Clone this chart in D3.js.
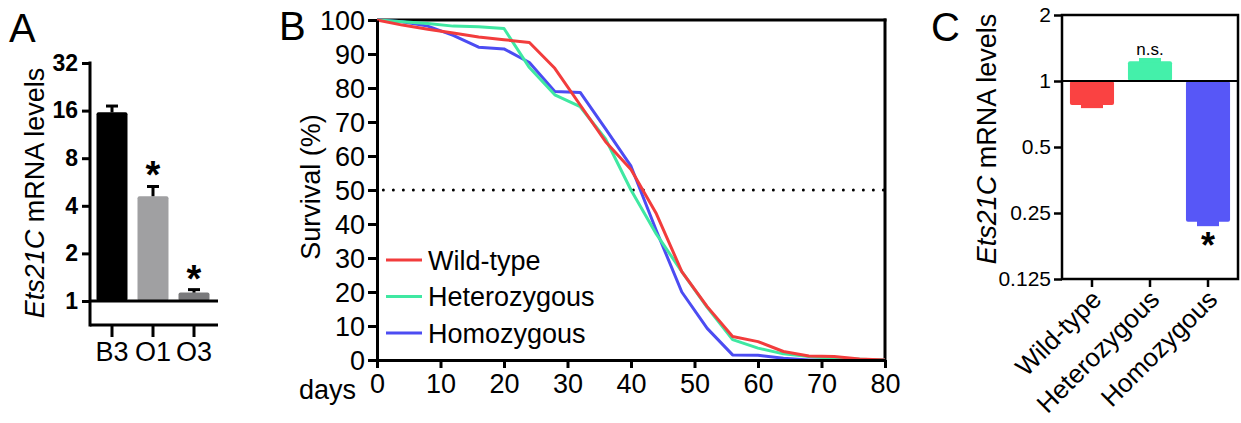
<!DOCTYPE html>
<html lang="en">
<head>
  <meta charset="UTF-8">
  <title>Ets21C figure</title>
  <script src="https://d3js.org/d3.v7.min.js"></script>
  <style>
    body { margin: 0; background: #fff; }
    svg text { font-family: Arial, "Liberation Sans", Helvetica, sans-serif; }
  </style>
</head>
<body>
  <svg id="fig" width="1241" height="423"></svg>
  <script>
    // panel A: mRNA levels per line
    var linesA = ["B3", "O1", "O3"]
    var levelsA = [15.6, 4.6, 1.13]
    var errA = [17.1, 5.3, 1.18]
    var starA = [false, true, true]
    var colorsA = ["#000000", "#a0a0a2", "#7a7a7c"]
    var ticksA = [1, 2, 4, 8, 16, 32]

    // panel B: survival curves
    var days = [0, 4, 8, 12, 16, 20, 24, 28, 32, 36, 40, 44, 48, 52, 56, 60, 64, 68, 72, 76, 80]
    var wildType = [100, 98.5, 97.3, 96.2, 95, 94.2, 93.4, 85.8, 75, 64.2, 56, 43, 26, 15.7, 6.9, 5.4, 2.5, 1.2, 1.0, 0.3, 0]
    var heterozygous = [100, 99.5, 99, 98.2, 98, 97.5, 86, 78, 74.5, 65, 50, 37, 26, 15.5, 6, 3.5, 1.8, 1, 0.5, 0.2, 0]
    var homozygous = [100, 99.5, 98.2, 95.5, 92, 91.5, 87.5, 79, 78.7, 68, 57, 38, 20, 9.3, 1.5, 1.4, 0.5, 0, 0, 0, 0]
    var genotypes = ["Wild-type", "Heterozygous", "Homozygous"]
    var colors = ["#f23c3c", "#3fe8a2", "#4c4cf2"]
    var ticksBx = [0, 10, 20, 30, 40, 50, 60, 70, 80]
    var ticksBy = [0, 10, 20, 30, 40, 50, 60, 70, 80, 90, 100]

    // panel C: relative levels per genotype
    var levelsC = [0.777, 1.23, 0.228]
    var errC = [0.76, 1.26, 0.22]
    var barColorsC = ["#fa4242", "#44f0aa", "#5757f7"]
    var ticksC = [0.125, 0.25, 0.5, 1, 2]

    var svg = d3.select("#fig")

    function styleAxis(g, size) {
      g.selectAll("path, line").attr("stroke", "#000").attr("stroke-width", 3)
      g.selectAll("text").style("font-size", size + "px").attr("fill", "#000")
    }

    // ---------- A ----------
    var yA = d3.scaleLog().base(2).domain([1, 32]).range([301, 63])
    var xA = d3.scaleBand().domain(linesA).range([91.5, 214.5]).paddingInner(0.244).paddingOuter(0.122)

    svg.append("text").attr("x", 9).attr("y", 42).style("font-size", "40px").text("A")

    var gA = svg.append("g")
    gA.selectAll("rect").data(linesA).enter().append("rect")
      .attr("x", function (d) { return xA(d) })
      .attr("width", xA.bandwidth())
      .attr("y", function (d, i) { return yA(levelsA[i]) })
      .attr("height", function (d, i) { return yA(1) - yA(levelsA[i]) })
      .attr("rx", 2)
      .attr("fill", function (d, i) { return colorsA[i] })

    // error bars + stars
    linesA.forEach(function (d, i) {
      var cx = xA(d) + xA.bandwidth() / 2
      gA.append("line").attr("x1", cx).attr("x2", cx)
        .attr("y1", yA(levelsA[i])).attr("y2", yA(errA[i]))
        .attr("stroke", "#000").attr("stroke-width", 3)
      gA.append("line").attr("x1", cx - 6).attr("x2", cx + 6)
        .attr("y1", yA(errA[i])).attr("y2", yA(errA[i]))
        .attr("stroke", "#000").attr("stroke-width", 3)
      if (starA[i]) {
        gA.append("text").attr("x", cx).attr("y", yA(errA[i]) + 2)
          .attr("text-anchor", "middle").style("font-size", "38px").style("font-weight", "bold")
          .text("*")
      }
    })

    var axA = svg.append("g").attr("transform", "translate(90,0)")
      .call(d3.axisLeft(yA).tickValues(ticksA).tickFormat(d3.format("d")).tickSize(8).tickSizeOuter(0))
    styleAxis(axA, 23)
    axA.selectAll("text").style("font-weight", "bold").attr("x", -12)
    axA.select(".domain").remove()
    svg.append("line").attr("x1", 90).attr("x2", 90).attr("y1", 61.5).attr("y2", 326.5)
      .attr("stroke", "#000").attr("stroke-width", 3)
    // line at 1 and broken bottom axis
    svg.append("line").attr("x1", 90).attr("x2", 218).attr("y1", yA(1)).attr("y2", yA(1))
      .attr("stroke", "#000").attr("stroke-width", 3)
    var axAx = svg.append("g").attr("transform", "translate(0,325)")
      .call(d3.axisBottom(xA).tickSize(12).tickPadding(5).tickSizeOuter(0))
    styleAxis(axAx, 27)
    axAx.select(".domain").remove()
    svg.append("line").attr("x1", 90).attr("x2", 218).attr("y1", 325).attr("y2", 325)
      .attr("stroke", "#000").attr("stroke-width", 3)

    svg.append("text")
      .attr("transform", "translate(44,193)rotate(-90)")
      .attr("text-anchor", "middle")
      .style("font-size", "27px")
      .html("<tspan font-style='italic'>Ets21C</tspan> mRNA levels")

    // ---------- B ----------
    var xB = d3.scaleLinear().domain([0, 80]).range([377, 885])
    var yB = d3.scaleLinear().domain([0, 100]).range([360, 20])

    svg.append("text").attr("x", 279).attr("y", 40).style("font-size", "40px").text("B")

    // frame top / right
    svg.append("line").attr("x1", 377).attr("x2", 886.5).attr("y1", 20).attr("y2", 20)
      .attr("stroke", "#000").attr("stroke-width", 3)
    svg.append("line").attr("x1", 885).attr("x2", 885).attr("y1", 18.5).attr("y2", 360)
      .attr("stroke", "#000").attr("stroke-width", 3)

    // 50% dotted line
    svg.append("line").attr("x1", xB(1)).attr("x2", xB(80)).attr("y1", yB(50)).attr("y2", yB(50))
      .attr("stroke", "#000").attr("stroke-width", 3)
      .attr("stroke-linecap", "round").attr("stroke-dasharray", "0,10")

    var line = d3.line()
      .x(function (d, i) { return xB(days[i]) })
      .y(function (d) { return yB(d) })

    var series = [wildType, heterozygous, homozygous]
    // draw homozygous first so wild-type sits on top
    for (var k = series.length - 1; k >= 0; k--) {
      svg.append("path").datum(series[k])
        .attr("d", line)
        .attr("fill", "none")
        .attr("stroke", colors[k])
        .attr("stroke-width", 3)
        .attr("stroke-linejoin", "round")
    }

    var axBx = svg.append("g").attr("transform", "translate(0,360)")
      .call(d3.axisBottom(xB).tickValues(ticksBx).tickSize(8).tickPadding(6).tickSizeOuter(0))
    styleAxis(axBx, 27)
    var axBy = svg.append("g").attr("transform", "translate(377,0)")
      .call(d3.axisLeft(yB).tickValues(ticksBy).tickSize(9).tickPadding(3).tickSizeOuter(0))
    styleAxis(axBy, 27)
    axBy.selectAll("text").attr("dy", "0.36em")

    svg.append("text").attr("x", 299).attr("y", 399).style("font-size", "27px").text("days")
    svg.append("text")
      .attr("transform", "translate(320,187)rotate(-90)")
      .attr("text-anchor", "middle")
      .style("font-size", "27px")
      .text("Survival (%)")

    // legend
    genotypes.forEach(function (name, i) {
      var ly = 260 + i * 36.5
      svg.append("line").attr("x1", 386).attr("x2", 422).attr("y1", ly).attr("y2", ly)
        .attr("stroke", colors[i]).attr("stroke-width", 3)
      svg.append("text").attr("x", 428).attr("y", ly + 9.5).style("font-size", "27px").text(name)
    })

    // ---------- C ----------
    var yC = d3.scaleLog().base(2).domain([0.125, 2]).range([279, 15])
    var xC = d3.scaleBand().domain(genotypes).range([1062, 1238]).paddingInner(0.24).paddingOuter(0.137)

    svg.append("text").attr("x", 931).attr("y", 41).style("font-size", "40px").text("C")

    genotypes.forEach(function (g, i) {
      var x0 = xC(g), w = xC.bandwidth(), cx = x0 + w / 2
      var top = Math.min(yC(1), yC(levelsC[i])), bot = Math.max(yC(1), yC(levelsC[i]))
      svg.append("rect").attr("x", x0).attr("width", w)
        .attr("y", top).attr("height", bot - top)
        .attr("rx", 2)
        .attr("fill", barColorsC[i])
      // error shown as a narrow block past the bar end
      var e0 = Math.min(yC(levelsC[i]), yC(errC[i])), e1 = Math.max(yC(levelsC[i]), yC(errC[i]))
      svg.append("rect").attr("x", cx - 11).attr("width", 22)
        .attr("y", e0 - 1).attr("height", e1 - e0 + 2)
        .attr("fill", barColorsC[i])
    })

    svg.append("text").attr("x", xC("Heterozygous") + xC.bandwidth() / 2).attr("y", 55)
      .attr("text-anchor", "middle").style("font-size", "17px").text("n.s.")
    svg.append("text").attr("x", xC("Homozygous") + xC.bandwidth() / 2).attr("y", yC(errC[2]) + 33)
      .attr("text-anchor", "middle").style("font-size", "36px").style("font-weight", "bold").text("*")

    // frame and 1-line
    svg.append("rect").attr("x", 1062).attr("y", 15).attr("width", 176).attr("height", 264)
      .attr("fill", "none").attr("stroke", "#000").attr("stroke-width", 2.5)
    svg.append("line").attr("x1", 1062).attr("x2", 1238).attr("y1", yC(1)).attr("y2", yC(1))
      .attr("stroke", "#000").attr("stroke-width", 2)

    var axCy = svg.append("g").attr("transform", "translate(1062,0)")
      .call(d3.axisLeft(yC).tickValues(ticksC).tickFormat(function (d) { return String(d) }).tickSize(8).tickPadding(3).tickSizeOuter(0))
    styleAxis(axCy, 21)
    axCy.selectAll("path, line").attr("stroke-width", 2.5)
    axCy.select(".domain").remove()

    var axCx = svg.append("g").attr("transform", "translate(0,279)")
      .call(d3.axisBottom(xC).tickSize(8).tickSizeOuter(0))
    styleAxis(axCx, 26)
    axCx.selectAll("path, line").attr("stroke-width", 2.5)
    axCx.select(".domain").remove()
    axCx.selectAll("text")
      .attr("text-anchor", "end")
      .attr("x", 0).attr("y", 0).attr("dy", 0)
      .attr("transform", "translate(11,22)rotate(-45)")

    svg.append("text")
      .attr("transform", "translate(996,139)rotate(-90)")
      .attr("text-anchor", "middle")
      .style("font-size", "27px")
      .html("<tspan font-style='italic'>Ets21C</tspan> mRNA levels")
  </script>
</body>
</html>
